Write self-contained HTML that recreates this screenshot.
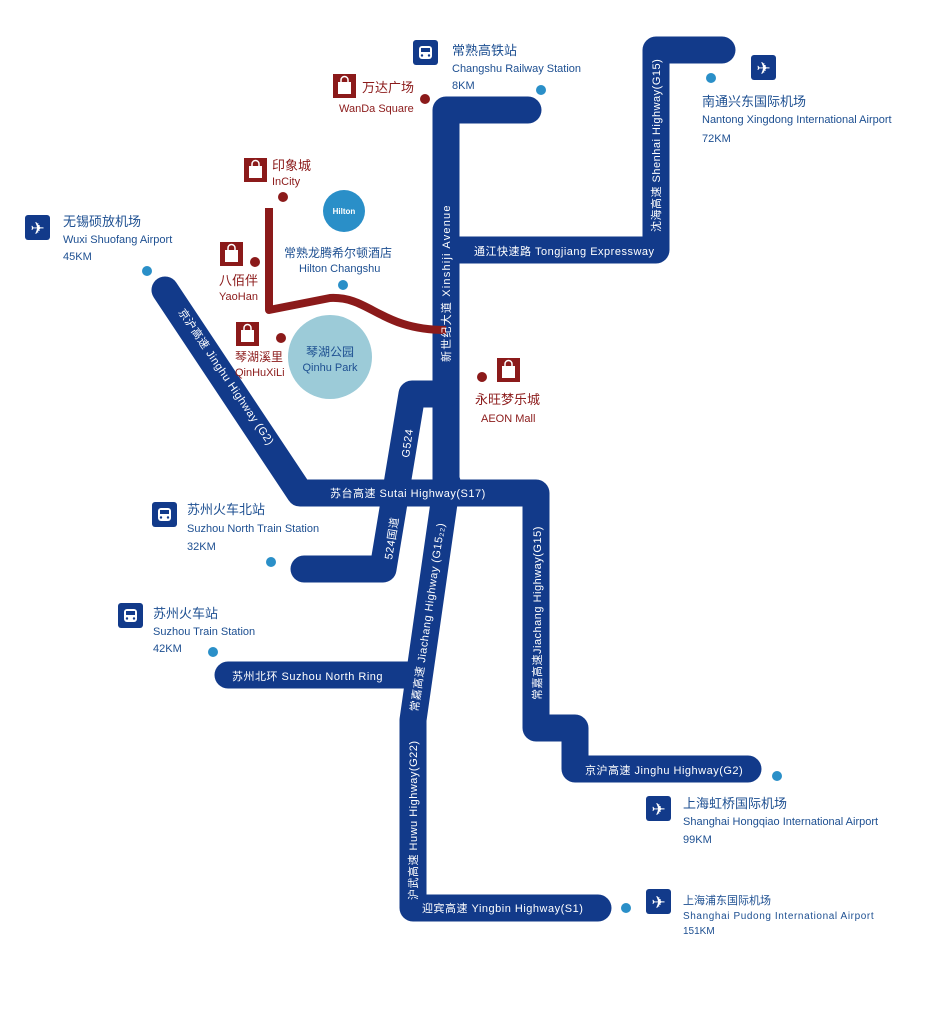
<!DOCTYPE html>
<html><head><meta charset="utf-8"><style>
html,body{margin:0;padding:0;background:#fff;}
svg{display:block;font-family:"Liberation Sans","Noto Sans CJK SC",sans-serif;}
.b{fill:#1d4f91;font-size:11px}
.bz{fill:#1d4f91;font-size:13px}
.r{fill:#8b1a1a;font-size:11px}
.rz{fill:#8b1a1a;font-size:13px}
.w{fill:#fff;font-size:11px;letter-spacing:0.5px}
</style></head><body>
<svg width="933" height="1010" viewBox="0 0 933 1010">
<defs>
<g id="bag"><rect x="0" y="0" width="23" height="24" fill="#8b1a1a"/><rect x="5" y="8" width="13" height="12" fill="#fff"/><path d="M8 9 V6 a3.5 3.5 0 0 1 7 0 V9" stroke="#fff" stroke-width="1.5" fill="none"/></g>
<g id="train"><rect x="0" y="0" width="25" height="25" rx="3" fill="#123a8a"/><rect x="6" y="6" width="13" height="13" rx="3" fill="#fff"/><rect x="8" y="8" width="9" height="4" fill="#123a8a"/><circle cx="9" cy="15.5" r="1.2" fill="#123a8a"/><circle cx="16" cy="15.5" r="1.2" fill="#123a8a"/></g>
<g id="plane"><rect x="0" y="0" width="25" height="25" rx="3" fill="#123a8a"/><text x="12.5" y="19" text-anchor="middle" fill="#fff" font-size="17" font-family="DejaVu Sans">✈</text></g>
</defs>
<g fill="none" stroke="#123a8a" stroke-width="27" stroke-linejoin="round" stroke-linecap="round">
<path d="M528 110 H446 V480"/>
<path d="M446 250 H656 V50 H722"/>
<path d="M165 290 L300 493 H536 V728 H575 V769 H748"/>
<path d="M446 394 H412 L383 569 H304"/>
<path d="M447 482 L413 720 V908 H598"/>
<path d="M228 675 H410"/>
</g>
<g fill="none" stroke="#8b1a1a" stroke-width="8" stroke-linejoin="round">
<path d="M269 208 V310 L330 298 C370 296 380 330 446 330"/>
</g>
<circle cx="330" cy="357" r="42" fill="#9ccbd8"/>
<circle cx="344" cy="211" r="21" fill="#2a8fc8"/>
<text x="344" y="214" text-anchor="middle" fill="#fff" font-size="8" font-weight="bold">Hilton</text>
<text x="330" y="356" text-anchor="middle" class="bz" style="font-size:12px">琴湖公园</text>
<text x="330" y="371" text-anchor="middle" class="b">Qinhu Park</text>
<use href="#train" x="413" y="40"/>
<use href="#bag" x="333" y="74"/>
<use href="#plane" x="751" y="55"/>
<use href="#bag" x="244" y="158"/>
<use href="#plane" x="25" y="215"/>
<use href="#bag" x="220" y="242"/>
<use href="#bag" x="236" y="322"/>
<use href="#bag" x="497" y="358"/>
<use href="#train" x="152" y="502"/>
<use href="#train" x="118" y="603"/>
<use href="#plane" x="646" y="796"/>
<use href="#plane" x="646" y="889"/>
<g fill="#2a8fc8"><circle cx="541" cy="90" r="5"/><circle cx="711" cy="78" r="5"/><circle cx="147" cy="271" r="5"/><circle cx="343" cy="285" r="5"/><circle cx="271" cy="562" r="5"/><circle cx="213" cy="652" r="5"/><circle cx="777" cy="776" r="5"/><circle cx="626" cy="908" r="5"/></g>
<g fill="#8b1a1a"><circle cx="425" cy="99" r="5"/><circle cx="283" cy="197" r="5"/><circle cx="255" cy="262" r="5"/><circle cx="281" cy="338" r="5"/><circle cx="482" cy="377" r="5"/></g>
<text x="452" y="55" class="bz">常熟高铁站</text><text x="452" y="72" class="b">Changshu Railway Station</text><text x="452" y="89" class="b">8KM</text>
<text x="362" y="92" class="rz">万达广场</text><text x="339" y="112" class="r">WanDa Square</text>
<text x="702" y="106" class="bz">南通兴东国际机场</text><text x="702" y="123" class="b">Nantong Xingdong International Airport</text><text x="702" y="142" class="b">72KM</text>
<text x="272" y="170" class="rz">印象城</text><text x="272" y="185" class="r">InCity</text>
<text x="63" y="226" class="bz">无锡硕放机场</text><text x="63" y="243" class="b">Wuxi Shuofang Airport</text><text x="63" y="260" class="b">45KM</text>
<text x="219" y="285" class="rz">八佰伴</text><text x="219" y="300" class="r">YaoHan</text>
<text x="284" y="257" class="bz" style="font-size:12px">常熟龙腾希尔顿酒店</text><text x="299" y="272" class="b">Hilton Changshu</text>
<text x="235" y="361" class="rz" style="font-size:12px">琴湖溪里</text><text x="235" y="376" class="r">QinHuXiLi</text>
<text x="475" y="404" class="rz">永旺梦乐城</text><text x="481" y="422" class="r">AEON Mall</text>
<text x="187" y="514" class="bz">苏州火车北站</text><text x="187" y="532" class="b">Suzhou North Train Station</text><text x="187" y="550" class="b">32KM</text>
<text x="153" y="618" class="bz">苏州火车站</text><text x="153" y="635" class="b">Suzhou Train Station</text><text x="153" y="652" class="b">42KM</text>
<text x="683" y="808" class="bz">上海虹桥国际机场</text><text x="683" y="825" class="b">Shanghai Hongqiao International Airport</text><text x="683" y="843" class="b">99KM</text>
<text x="683" y="904" class="b">上海浦东国际机场</text><text x="683" y="919" class="b" style="font-size:10px;letter-spacing:0.6px">Shanghai Pudong International Airport</text><text x="683" y="934" class="b" style="font-size:10px">151KM</text>
<text x="474" y="255" class="w">通江快速路 Tongjiang Expressway</text>
<text transform="translate(660,232) rotate(-90)" class="w">沈海高速 Shenhai Highway(G15)</text>
<text transform="translate(450,362) rotate(-90)" class="w" style="letter-spacing:1.2px">新世纪大道  Xinshiji Avenue</text>
<text transform="translate(409,458) rotate(-82)" class="w">G524</text>
<text transform="translate(178,312) rotate(56)" class="w">京沪高速 Jinghu Highway (G2)</text>
<text x="330" y="497" class="w">苏台高速 Sutai Highway(S17)</text>
<text transform="translate(392,560) rotate(-81)" class="w">524国道</text>
<text transform="translate(418,712) rotate(-82)" class="w">常嘉高速 Jiachang Highway (G15₂₂)</text>
<text x="232" y="680" class="w">苏州北环 Suzhou North Ring</text>
<text transform="translate(417,900) rotate(-90)" class="w">沪武高速 Huwu Highway(G22)</text>
<text transform="translate(541,700) rotate(-90)" class="w">常嘉高速Jiachang Highway(G15)</text>
<text x="585" y="774" class="w">京沪高速 Jinghu Highway(G2)</text>
<text x="422" y="912" class="w">迎宾高速 Yingbin Highway(S1)</text>
</svg>
</body></html>
